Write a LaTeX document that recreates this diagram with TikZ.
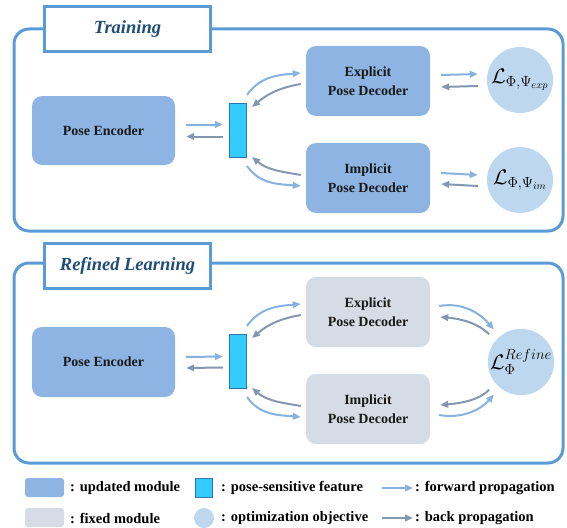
\RequirePackage{fix-cm}
\documentclass[tikz,border=0pt]{standalone}
\usepackage{fontspec}
\setmainfont{Liberation Serif}
\usepackage{tikz}
\usetikzlibrary{arrows.meta,calc,shapes}

\definecolor{updblue}{HTML}{8DB4E2}
\definecolor{fixgray}{HTML}{D6DCE5}
\definecolor{objblue}{HTML}{BDD7EE}
\definecolor{featcyan}{HTML}{33CCFF}
\definecolor{featedge}{HTML}{2E75B6}
\definecolor{panelblue}{HTML}{5B9BD5}
\definecolor{titleblue}{HTML}{1F4E79}
\definecolor{fwdblue}{HTML}{86B2E0}
\definecolor{backgray}{HTML}{8497B0}

\tikzset{
  panel/.style={draw=panelblue, line width=3pt, rounded corners=15pt},
  titlebox/.style={draw=panelblue, line width=3pt, fill=white, minimum width=166pt, minimum height=45pt,
    text=titleblue, font=\fontsize{18.5}{22}\selectfont\bfseries\itshape},
  modbox/.style={rounded corners=10pt, minimum width=124pt, minimum height=70pt, align=center,
    text=black!90, font=\fontsize{14}{18.5}\selectfont\bfseries},
  updbox/.style={modbox, fill=updblue},
  fixbox/.style={modbox, fill=fixgray},
  featbox/.style={draw=featedge, line width=1pt, fill=featcyan, minimum width=17pt, minimum height=54pt, inner sep=0pt},
  lossnode/.style={circle, fill=objblue, minimum size=66pt, inner sep=0pt, font=\fontsize{21}{24}\selectfont},
  fwdarrow/.style={draw=fwdblue, line width=2pt, -{Triangle[length=8pt,width=6.5pt]}},
  backarrow/.style={draw=backgray, line width=2pt, -{Triangle[length=8pt,width=6.5pt]}},
  legtext/.style={anchor=west, inner sep=0pt, font=\fontsize{14.5}{17}\selectfont\bfseries}
}

\begin{document}
\begin{tikzpicture}[x=1pt,y=-1pt]
\useasboundingbox (0,0) rectangle (567,527);

% Training
\draw[panel] (14,29) rectangle (563,231);
\node[titlebox] (title1) at (127.5,29.5) {Training};

\node[updbox, minimum width=143pt, minimum height=69pt] (enc1) at (103.5,130.5) {Pose Encoder};
\node[featbox] (feat1) at (238,130.5) {};
\node[updbox] (exp1) at (368,81) {Explicit\\Pose Decoder};
\node[updbox] (imp1) at (368,178) {Implicit\\Pose Decoder};
\node[lossnode] (loss1) at (520,80) {$\mathcal{L}_{\Phi,\Psi_{exp}}$};
\node[lossnode] (loss2) at (520,180) {$\mathcal{L}_{\Phi,\Psi_{im}}$};

\draw[fwdarrow] ([xshift=11pt,yshift=6pt]enc1.east) -- ([xshift=-6pt,yshift=6pt]feat1.west);
\draw[backarrow] ([xshift=-6pt,yshift=-6pt]feat1.west) -- ([xshift=11pt,yshift=-6pt]enc1.east);

\draw[fwdarrow] ([yshift=8pt]feat1.north east) to[out=55, in=185] ([xshift=-5pt,yshift=8pt]exp1.west);
\draw[backarrow] ([xshift=-5pt,yshift=-3pt]exp1.west) to[out=190, in=40] ([xshift=5pt,yshift=-4pt]feat1.north east);
\draw[backarrow] ([xshift=-5pt,yshift=3pt]imp1.west) to[out=170, in=-40] ([xshift=5pt,yshift=1pt]feat1.south east);
\draw[fwdarrow] ([yshift=-8pt]feat1.south east) to[out=-55, in=175] ([xshift=-5pt,yshift=-8pt]imp1.west);

\draw[fwdarrow] ([xshift=11pt,yshift=6pt]exp1.east) -- ([xshift=-9pt,yshift=6pt]loss1.west);
\draw[backarrow] ([xshift=-9pt,yshift=-6pt]loss1.west) -- ([xshift=11pt,yshift=-6pt]exp1.east);
\draw[fwdarrow] ([xshift=11pt,yshift=5pt]imp1.east) -- ([xshift=-9pt,yshift=5pt]loss2.west);
\draw[backarrow] ([xshift=-9pt,yshift=-6pt]loss2.west) -- ([xshift=11pt,yshift=-6pt]imp1.east);

% Refined Learning
\draw[panel] (14,263) rectangle (563,463);
\node[titlebox] (title2) at (127.5,266) {Refined Learning};

\node[updbox, minimum width=143pt, minimum height=70pt] (enc2) at (103.5,362) {Pose Encoder};
\node[featbox] (feat2) at (238,361.5) {};
\node[fixbox] (exp2) at (368,312) {Explicit\\Pose Decoder};
\node[fixbox] (imp2) at (368,409) {Implicit\\Pose Decoder};
\node[lossnode] (loss3) at (521,362) {$\mathcal{L}_{\Phi}^{Refine}$};

\draw[fwdarrow] ([xshift=11pt,yshift=5pt]enc2.east) -- ([xshift=-6pt,yshift=5pt]feat2.west);
\draw[backarrow] ([xshift=-6pt,yshift=-6pt]feat2.west) -- ([xshift=11pt,yshift=-6pt]enc2.east);

\draw[fwdarrow] ([yshift=8pt]feat2.north east) to[out=55, in=185] ([xshift=-5pt,yshift=8pt]exp2.west);
\draw[backarrow] ([xshift=-5pt,yshift=-3pt]exp2.west) to[out=190, in=40] ([xshift=5pt,yshift=-4pt]feat2.north east);
\draw[backarrow] ([xshift=-5pt,yshift=3pt]imp2.west) to[out=170, in=-40] ([xshift=5pt,yshift=1pt]feat2.south east);
\draw[fwdarrow] ([yshift=-8pt]feat2.south east) to[out=-55, in=175] ([xshift=-5pt,yshift=-8pt]imp2.west);

\draw[fwdarrow, shorten >=9pt] ([xshift=9pt,yshift=6pt]exp2.east) to[out=10, in=130] (loss3.130);
\draw[backarrow, shorten <=9pt] (loss3.140) to[out=135, in=-5] ([xshift=10pt,yshift=-5pt]exp2.east);
\draw[backarrow, shorten <=9pt] (loss3.220) to[out=225, in=5] ([xshift=10pt,yshift=4pt]imp2.east);
\draw[fwdarrow, shorten >=9pt] ([xshift=9pt,yshift=-6pt]imp2.east) to[out=-10, in=230] (loss3.230);

% Leyenda
\node[updbox, minimum width=39pt, minimum height=19pt, rounded corners=3pt] (lgupd) at (44.5,487.5) {};
\node[legtext] (lgupdt) at (70,488) {: updated module};
\node[featbox, minimum height=19pt] (lgfeat) at (204,487.5) {};
\node[legtext] (lgfeatt) at (221,488) {: pose-sensitive feature};
\node[legtext] (lgfwdt) at (415,488) {: forward propagation};
\draw[fwdarrow] ([xshift=-33pt]lgfwdt.west) -- ([xshift=-2pt]lgfwdt.west);

\node[fixbox, minimum width=39pt, minimum height=19pt, rounded corners=3pt] (lgfix) at (44.5,517.5) {};
\node[legtext] (lgfixt) at (70,518) {: fixed module};
\node[lossnode, minimum size=20pt] (lgobj) at (204,518) {};
\node[legtext] (lgobjt) at (221,518) {: optimization objective};
\node[legtext] (lgbackt) at (415,518) {: back propagation};
\draw[backarrow] ([xshift=-33pt]lgbackt.west) -- ([xshift=-2pt]lgbackt.west);
\end{tikzpicture}
\end{document}
